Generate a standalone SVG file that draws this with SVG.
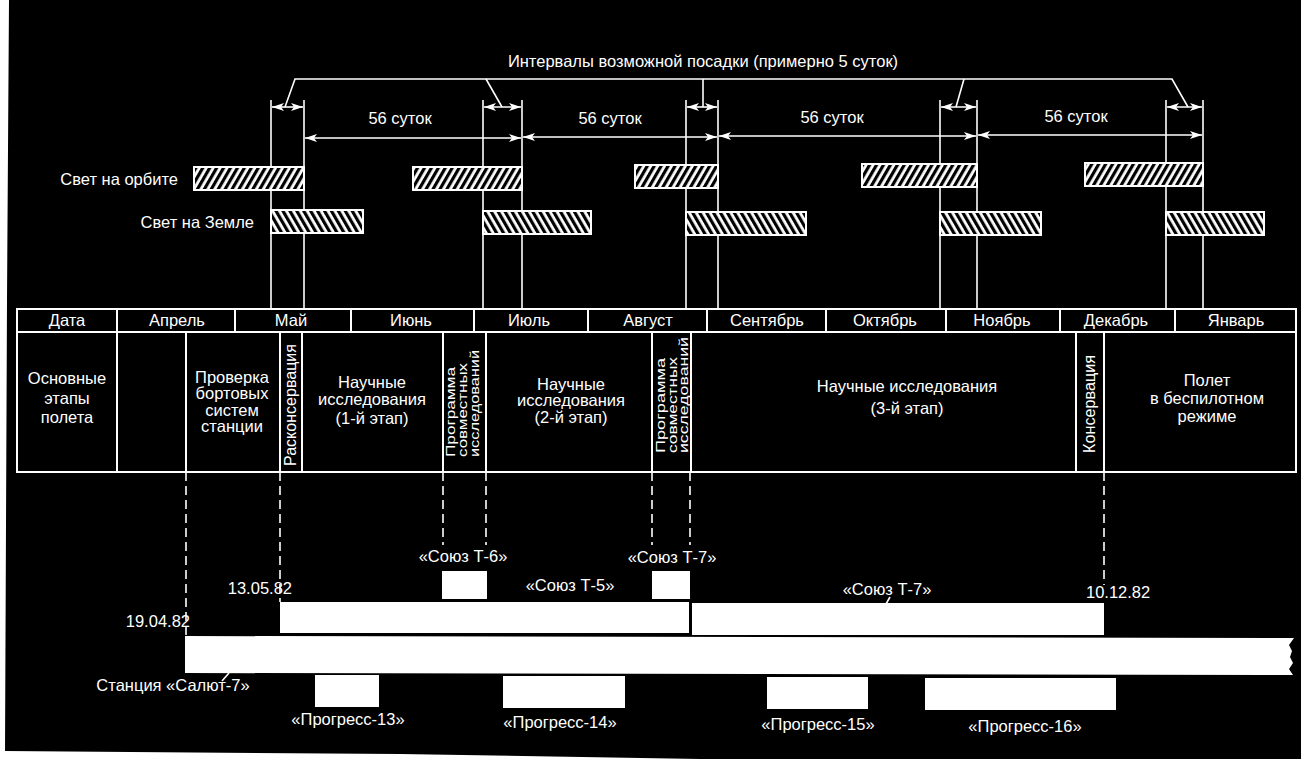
<svg xmlns="http://www.w3.org/2000/svg" width="1301" height="759" viewBox="0 0 1301 759">
<style>
  text { font-family: "Liberation Sans", Arial, sans-serif; fill: #fff; font-size: 16.5px; }
  .c { text-anchor: middle; }
  .e { text-anchor: end; }
  .ln { stroke: #fff; stroke-width: 1.6; fill: none; }
  .tb { stroke: #fff; stroke-width: 2; fill: none; }
  .dash { stroke: #fff; stroke-width: 1.6; fill: none; stroke-dasharray: 9 5; }
  .box { fill: #fff; }
  .orb { fill: url(#hatchO); stroke: #fff; stroke-width: 2; }
  .ear { fill: url(#hatchE); stroke: #fff; stroke-width: 2; }
  .v { font-size: 13px; }
</style>
<defs>
  <pattern id="hatchO" width="6" height="12" patternUnits="userSpaceOnUse" patternTransform="rotate(30)">
    <rect width="6" height="12" fill="#fff"/>
    <rect width="3.2" height="12" fill="#000"/>
  </pattern>
  <pattern id="hatchE" width="6" height="12" patternUnits="userSpaceOnUse" patternTransform="rotate(-30)">
    <rect width="6" height="12" fill="#fff"/>
    <rect width="3.2" height="12" fill="#000"/>
  </pattern>
  <marker id="ah" viewBox="0 0 12 8" refX="12" refY="4" markerWidth="12" markerHeight="8" markerUnits="userSpaceOnUse" orient="auto-start-reverse">
    <path d="M0,0 L12,4 L0,8 L3,4 Z" fill="#fff"/>
  </marker>
</defs>

<rect width="1301" height="759" fill="#fff"/>
<polygon points="9,0 1301,0 1301,759 700,759 400,754 5,751 7,300" fill="#000"/>

<!-- title -->
<text id="title" x="703" y="67" class="c">Интервалы возможной посадки  (примерно 5 суток)</text>

<!-- connectors / dimension lines -->
<g id="connectors">
  <!-- bracket -->
  <polyline class="ln" points="285,107 295,79 1172,79 1188,107"/>
  <line class="ln" x1="486" y1="79" x2="502" y2="107"/>
  <line class="ln" x1="703" y1="79" x2="703" y2="107"/>
  <line class="ln" x1="964" y1="79" x2="956" y2="107"/>
  <!-- interval vertical lines -->
  <g class="ln">
    <line x1="271" y1="100" x2="271" y2="308"/>
    <line x1="304" y1="100" x2="304" y2="308"/>
    <line x1="483" y1="100" x2="483" y2="308"/>
    <line x1="522" y1="100" x2="522" y2="308"/>
    <line x1="686" y1="100" x2="686" y2="308"/>
    <line x1="718" y1="100" x2="718" y2="308"/>
    <line x1="940" y1="100" x2="940" y2="308"/>
    <line x1="977" y1="100" x2="977" y2="308"/>
    <line x1="1166" y1="100" x2="1166" y2="308"/>
    <line x1="1203" y1="100" x2="1203" y2="308"/>
  </g>
  <!-- small interval arrows -->
  <g class="ln" marker-start="url(#ah)" marker-end="url(#ah)">
    <line x1="272" y1="107" x2="303" y2="107"/>
    <line x1="484" y1="107" x2="521" y2="107"/>
    <line x1="687" y1="107" x2="717" y2="107"/>
    <line x1="941" y1="107" x2="976" y2="107"/>
    <line x1="1167" y1="107" x2="1202" y2="107"/>
  </g>
  <!-- 56 days arrows -->
  <g class="ln" marker-start="url(#ah)" marker-end="url(#ah)">
    <line x1="305" y1="138" x2="521" y2="138"/>
    <line x1="523" y1="137" x2="717" y2="137"/>
    <line x1="719" y1="136" x2="976" y2="136"/>
    <line x1="978" y1="135" x2="1202" y2="135"/>
  </g>
  <!-- dashed drop lines -->
  <g class="dash">
    <line x1="186" y1="472" x2="186" y2="636"/>
    <line x1="280" y1="472" x2="280" y2="602"/>
    <line x1="443" y1="472" x2="443" y2="545"/>
    <line x1="486" y1="472" x2="486" y2="545"/>
    <line x1="652" y1="472" x2="652" y2="545"/>
    <line x1="690" y1="472" x2="690" y2="545"/>
    <line x1="1104" y1="472" x2="1104" y2="585"/>
  </g>
  <!-- leaders -->
  <line class="ln" x1="222" y1="681" x2="229" y2="673"/>
  <line class="ln" x1="890" y1="597" x2="886" y2="604"/>
</g>

<g id="days56">
  <text x="400" y="124" class="c">56 суток</text>
  <text x="610" y="124" class="c">56 суток</text>
  <text x="832" y="123" class="c">56 суток</text>
  <text x="1076" y="122" class="c">56 суток</text>
</g>

<!-- light on orbit -->
<g id="orbit">
  <text x="178" y="185" class="e">Свет на орбите</text>
  <rect class="orb" x="194" y="167" width="110" height="23"/>
  <rect class="orb" x="413" y="167" width="109" height="23"/>
  <rect class="orb" x="635" y="165" width="83" height="23"/>
  <rect class="orb" x="862" y="164" width="115" height="23"/>
  <rect class="orb" x="1085" y="163" width="118" height="23"/>
</g>

<!-- light on Earth -->
<g id="earth">
  <text x="254" y="228" class="e">Свет на Земле</text>
  <rect class="ear" x="271" y="210" width="92" height="23"/>
  <rect class="ear" x="483" y="211" width="108" height="23"/>
  <rect class="ear" x="686" y="212" width="120" height="23"/>
  <rect class="ear" x="940" y="212" width="101" height="23"/>
  <rect class="ear" x="1166" y="212" width="98" height="23"/>
</g>

<!-- table -->
<g id="table">
  <rect class="tb" x="17" y="309" width="1279" height="163"/>
  <line class="tb" x1="17" y1="332" x2="1296" y2="332"/>
  <g class="tb">
    <line x1="117" y1="309" x2="117" y2="472"/>
    <line x1="235" y1="309" x2="235" y2="332"/>
    <line x1="351" y1="309" x2="351" y2="332"/>
    <line x1="474" y1="309" x2="474" y2="332"/>
    <line x1="588" y1="309" x2="588" y2="332"/>
    <line x1="707" y1="309" x2="707" y2="332"/>
    <line x1="826" y1="309" x2="826" y2="332"/>
    <line x1="946" y1="309" x2="946" y2="332"/>
    <line x1="1060" y1="309" x2="1060" y2="332"/>
    <line x1="1175" y1="309" x2="1175" y2="332"/>
    <line x1="186" y1="332" x2="186" y2="472"/>
    <line x1="280" y1="332" x2="280" y2="472"/>
    <line x1="302" y1="332" x2="302" y2="472"/>
    <line x1="443" y1="332" x2="443" y2="472"/>
    <line x1="486" y1="332" x2="486" y2="472"/>
    <line x1="652" y1="332" x2="652" y2="472"/>
    <line x1="691" y1="332" x2="691" y2="472"/>
    <line x1="1076" y1="332" x2="1076" y2="472"/>
    <line x1="1104" y1="332" x2="1104" y2="472"/>
  </g>
  <g id="header">
    <text x="67" y="326" class="c">Дата</text>
    <text x="177" y="326" class="c">Апрель</text>
    <text x="291" y="326" class="c">Май</text>
    <text x="411" y="326" class="c">Июнь</text>
    <text x="529" y="326" class="c">Июль</text>
    <text x="648" y="326" class="c">Август</text>
    <text x="767" y="326" class="c">Сентябрь</text>
    <text x="885" y="326" class="c">Октябрь</text>
    <text x="1002" y="326" class="c">Ноябрь</text>
    <text x="1116" y="326" class="c">Декабрь</text>
    <text x="1236" y="326" class="c">Январь</text>
  </g>
  <g id="stage-main">
    <text x="67" y="384" class="c">Основные</text>
    <text x="67" y="404" class="c">этапы</text>
    <text x="67" y="423" class="c">полета</text>
  </g>
  <g id="stage-check">
    <text x="232" y="383" class="c">Проверка</text>
    <text x="232" y="399" class="c">бортовых</text>
    <text x="232" y="416" class="c">систем</text>
    <text x="232" y="432" class="c">станции</text>
  </g>
  <g id="stage-reactivation">
    <text transform="translate(296,466) rotate(-90)" textLength="122" lengthAdjust="spacingAndGlyphs">Расконсервация</text>
  </g>
  <g id="stage-sci1">
    <text x="372" y="388" class="c">Научные</text>
    <text x="372" y="405" class="c">исследования</text>
    <text x="372" y="424" class="c">(1-й этап)</text>
  </g>
  <g id="stage-joint1">
    <text class="v" transform="translate(455,457) rotate(-90)" textLength="90" lengthAdjust="spacingAndGlyphs">Программа</text>
    <text class="v" transform="translate(467,457) rotate(-90)" textLength="94" lengthAdjust="spacingAndGlyphs">совместных</text>
    <text class="v" transform="translate(479,457) rotate(-90)" textLength="107" lengthAdjust="spacingAndGlyphs">исследований</text>
  </g>
  <g id="stage-sci2">
    <text x="571" y="390" class="c">Научные</text>
    <text x="571" y="406" class="c">исследования</text>
    <text x="571" y="423" class="c">(2-й этап)</text>
  </g>
  <g id="stage-joint2">
    <text class="v" transform="translate(665,453) rotate(-90)" textLength="95" lengthAdjust="spacingAndGlyphs">Программа</text>
    <text class="v" transform="translate(677,453) rotate(-90)" textLength="96" lengthAdjust="spacingAndGlyphs">совместных</text>
    <text class="v" transform="translate(688,453) rotate(-90)" textLength="116" lengthAdjust="spacingAndGlyphs">исследований</text>
  </g>
  <g id="stage-sci3">
    <text x="907" y="392" class="c">Научные  исследования</text>
    <text x="907" y="414" class="c">(3-й этап)</text>
  </g>
  <g id="stage-conservation">
    <text transform="translate(1095,453) rotate(-90)" textLength="98" lengthAdjust="spacingAndGlyphs">Консервация</text>
  </g>
  <g id="stage-unmanned">
    <text x="1207" y="386" class="c">Полет</text>
    <text x="1207" y="404" class="c">в беспилотном</text>
    <text x="1207" y="422" class="c">режиме</text>
  </g>
</g>

<!-- spacecraft -->
<g id="soyuz-t6">
  <text x="463" y="562" class="c">«Союз Т-6»</text>
  <rect class="box" x="442" y="571" width="45" height="28"/>
</g>
<g id="soyuz-t7-visit">
  <text x="672" y="563" class="c">«Союз Т-7»</text>
  <rect class="box" x="652" y="571" width="38" height="28"/>
</g>
<g id="soyuz-t5">
  <text x="292" y="594" class="e">13.05.82</text>
  <text x="570" y="591" class="c">«Союз Т-5»</text>
  <rect class="box" x="280" y="602" width="409" height="31"/>
</g>
<g id="soyuz-t7">
  <text x="887" y="595" class="c">«Союз Т-7»</text>
  <text x="1086" y="598">10.12.82</text>
  <rect class="box" x="692" y="603" width="412" height="32"/>
</g>
<g id="salyut-7">
  <text x="190" y="627" class="e">19.04.82</text>
  <path class="box" d="M185,636 L1294,638 L1289,645 L1292,651 L1290,657 L1293,663 L1289,669 L1293,675 L185,673 Z"/>
  <text x="173" y="691" class="c">Станция «Салют-7»</text>
</g>
<g id="progress-13">
  <rect class="box" x="315" y="675" width="64" height="32"/>
  <text x="348" y="725" class="c">«Прогресс-13»</text>
</g>
<g id="progress-14">
  <rect class="box" x="503" y="676" width="122" height="32"/>
  <text x="560" y="728" class="c">«Прогресс-14»</text>
</g>
<g id="progress-15">
  <rect class="box" x="767" y="677" width="101" height="32"/>
  <text x="818" y="730" class="c">«Прогресс-15»</text>
</g>
<g id="progress-16">
  <rect class="box" x="925" y="678" width="191" height="32"/>
  <text x="1025" y="732" class="c">«Прогресс-16»</text>
</g>
</svg>
